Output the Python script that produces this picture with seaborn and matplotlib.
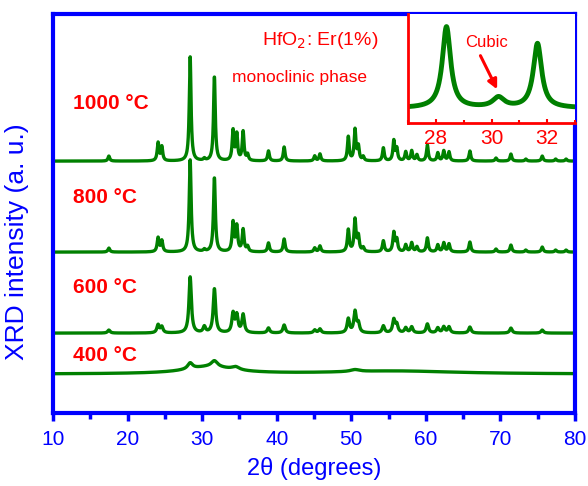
import numpy as np
import pandas as pd
import seaborn as sns
import matplotlib
matplotlib.use("Agg")
import matplotlib.pyplot as plt
from matplotlib.ticker import MultipleLocator

# === data ===
# peak positions (2theta), heights and widths for each anneal temperature
pos_1000 = [17.5, 24.1, 24.6, 28.4, 30.3, 31.65, 34.15, 34.65, 35.5, 36.1, 38.9, 41.0,
            45.1, 45.8, 49.6, 50.5, 50.95, 51.6, 54.3, 55.7, 56.1, 57.3, 58.1, 58.8,
            60.2, 61.6, 62.4, 63.1, 65.9, 69.4, 71.4, 73.4, 75.6, 77.4, 78.8]
h_1000 = [5, 18, 14, 104, 2, 84, 30, 26, 29, 6, 10, 14,
          5, 7, 24, 31, 14, 4, 13, 20, 12, 9, 10, 6,
          16, 8, 10, 9, 10, 3, 7, 2, 5, 2, 2]
pos_800 = pos_1000
h_800 = [4, 14, 11, 92, 2, 74, 29, 25, 22, 5, 9, 13,
         4, 6, 22, 32, 15, 4, 11, 19, 12, 7, 9, 5,
         14, 7, 9, 8, 10, 3, 7, 2, 5, 2, 2]
pos_600 = [17.5, 24.1, 24.6, 28.4, 30.3, 31.65, 34.15, 34.65, 35.5, 38.9, 41.0, 45.1,
           45.8, 49.6, 50.5, 50.95, 54.3, 55.7, 56.1, 57.3, 58.1, 60.2, 61.6, 62.4,
           63.1, 65.9, 71.4, 75.6]
h_600 = [3, 8, 6, 56, 6, 44, 19, 17, 18, 5, 8, 3,
         4, 14, 21, 9, 7, 13, 8, 5, 6, 9, 5, 6,
         6, 6, 5, 3]
pos_400 = [31.0, 28.4, 31.65, 34.5, 50.5, 56.0]
h_400 = [7, 6, 6, 3, 2, 3]
w_400 = [8.0, 0.8, 1.0, 1.2, 1.5, 20.0]

fwhm = {"1000": 0.28, "800": 0.3, "600": 0.38}
offsets = {"1000": 252, "800": 161, "600": 80, "400": 39}
temps = ["1000", "800", "600", "400"]

# inset (cubic phase region, 1000 C)
inset_pos = [28.38, 30.25, 31.65]
inset_h = [82, 10, 65]
inset_w = [0.36, 0.5, 0.36]


def profile(x, centres, heights, widths):
    y = np.zeros_like(x)
    for c, h, w in zip(centres, heights, widths):
        y += h / (1 + ((x - c) / (w / 2)) ** 2)
    return y


tt = np.linspace(10, 80, 3501)
frames = []
peaks = {"1000": (pos_1000, h_1000), "800": (pos_800, h_800), "600": (pos_600, h_600)}
for t in temps:
    if t == "400":
        y = profile(tt, pos_400, h_400, w_400)
    else:
        p, h = peaks[t]
        y = profile(tt, p, h, [fwhm[t]] * len(p))
    frames.append(pd.DataFrame({"tt": tt, "I": y + offsets[t], "T": t}))
df = pd.concat(frames)

tt_in = np.linspace(27, 33, 1201)
df_in = pd.DataFrame({"tt": tt_in, "I": profile(tt_in, inset_pos, inset_h, inset_w)})

# === figure ===
sns.set_style("white")
plt.rcParams["font.family"] = ["Liberation Sans", "DejaVu Sans"]
blue = "#0000ff"
red = "#ff0000"
green = "#008000"

fig = plt.figure(figsize=(5.88, 4.86), dpi=100)
ax = fig.add_axes([0.090, 0.150, 0.888, 0.821])
sns.lineplot(data=df, x="tt", y="I", hue="T", palette=[green] * 4, legend=False,
             linewidth=2.4, ax=ax, sort=False, estimator=None)
ax.set_xlim(10, 80)
ax.set_ylim(0, 399)
ax.set_yticks([])
ax.xaxis.set_major_locator(MultipleLocator(10))
ax.xaxis.set_minor_locator(MultipleLocator(5))
ax.tick_params(axis="x", which="both", direction="out", bottom=True, colors=blue,
               labelsize=15, pad=6)
ax.tick_params(axis="x", which="major", length=6, width=2.5)
ax.tick_params(axis="x", which="minor", length=4, width=2.5)
for s in ax.spines.values():
    s.set_color(blue)
    s.set_linewidth(3)
ax.set_xlabel("2\u03b8 (degrees)", color=blue, fontsize=17, labelpad=6)
ax.set_ylabel("XRD intensity (a. u.)", color=blue, fontsize=19)
ax.yaxis.set_label_coords(-0.045, 0.43)

for t, yy in zip(temps, [310, 216, 126, 58]):
    ax.text(12.7, yy, f"{t} \u00b0C", color=red, fontsize=15, fontweight="bold",
            ha="left", va="center")
ax.text(38.0, 373, "HfO$_2$: Er(1%)", color=red, fontsize=14, ha="left", va="center")
ax.text(34.0, 336, "monoclinic phase", color=red, fontsize=12.5, ha="left", va="center")

# === inset ===
axin = fig.add_axes([0.694, 0.747, 0.284, 0.224])
sns.lineplot(data=df_in, x="tt", y="I", color=green, linewidth=3.5, ax=axin)
axin.set_xlim(27, 33)
axin.set_ylim(-15, 95)
axin.set_yticks([])
axin.set_xlabel("")
axin.set_ylabel("")
axin.xaxis.set_major_locator(MultipleLocator(2))
axin.xaxis.set_minor_locator(MultipleLocator(1))
axin.tick_params(axis="x", which="both", direction="in", bottom=True, colors=red,
                 labelsize=15, pad=4)
axin.tick_params(axis="x", which="major", length=3, width=1.5)
axin.tick_params(axis="x", which="minor", length=2, width=1.5)
axin.spines["left"].set_color(red)
axin.spines["bottom"].set_color(red)
axin.spines["left"].set_linewidth(2)
axin.spines["bottom"].set_linewidth(2)
axin.spines["top"].set_visible(False)
axin.spines["right"].set_visible(False)
axin.text(29.8, 66, "Cubic", color=red, fontsize=12, ha="center", va="center")
axin.annotate("", xy=(30.2, 19), xytext=(29.6, 53),
              arrowprops=dict(arrowstyle="-|>", color=red, lw=2.2, mutation_scale=14,
                              shrinkA=0, shrinkB=0))

fig.savefig("out.png", dpi=100)
